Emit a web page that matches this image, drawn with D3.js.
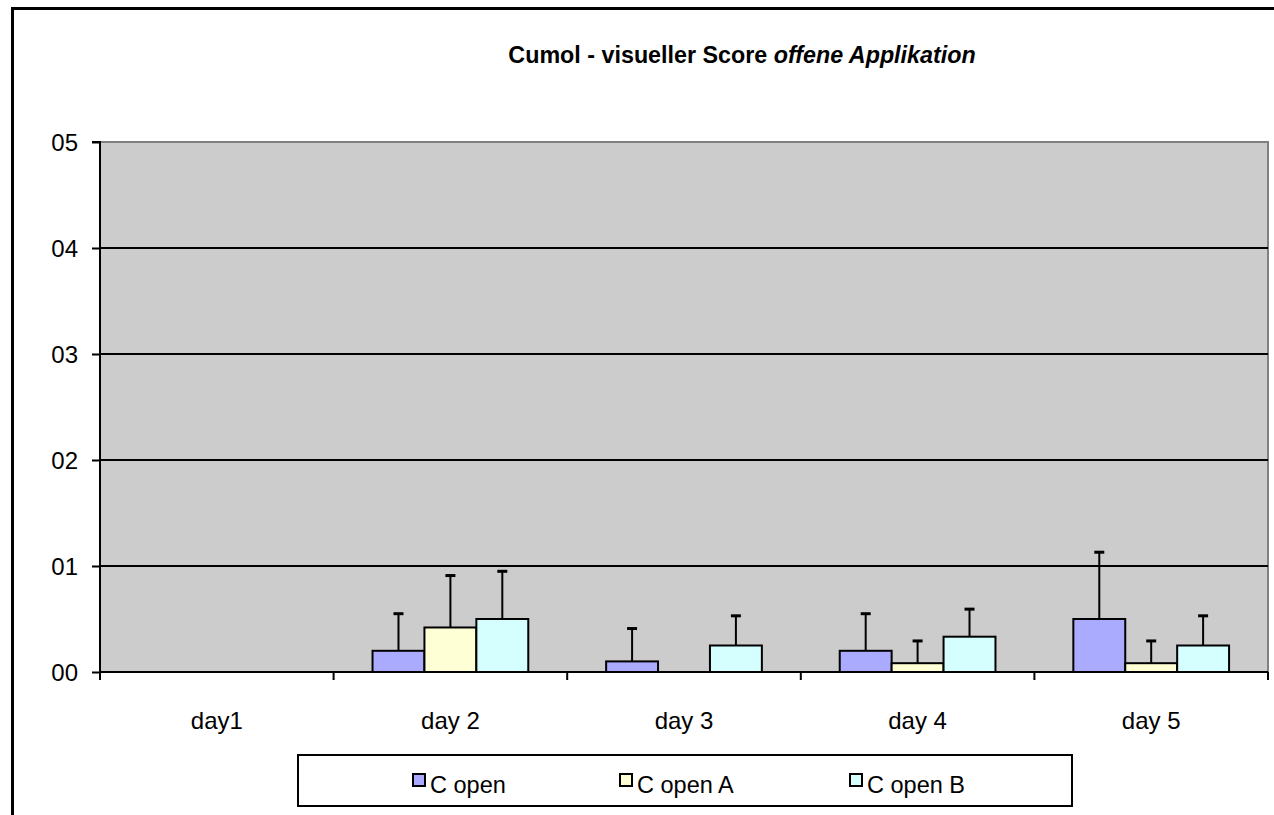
<!DOCTYPE html>
<html><head><meta charset="utf-8">
<script src="https://cdn.jsdelivr.net/npm/d3@7"></script>
<style>body{margin:0;background:#fff}svg{display:block}</style>
</head><body>
<svg id="c" width="1274" height="815"></svg>
<script>
const categories = ["day1", "day 2", "day 3", "day 4", "day 5"];
const seriesNames = ["C open", "C open A", "C open B"];
const cOpen  = [0, 0.2, 0.1, 0.2, 0.5];
const cOpenA = [0, 0.42, 0, 0.083, 0.083];
const cOpenB = [0, 0.5, 0.25, 0.333, 0.25];
const cOpenErr  = [0, 0.35, 0.31, 0.35, 0.63];
const cOpenAErr = [0, 0.49, 0, 0.21, 0.21];
const cOpenBErr = [0, 0.45, 0.28, 0.26, 0.28];
const yTicks = [0, 1, 2, 3, 4, 5];
const yTickLabels = ["00", "01", "02", "03", "04", "05"];
const colors = ["#aaaaff", "#ffffd5", "#d5ffff"];

const values = [cOpen, cOpenA, cOpenB];
const errors = [cOpenErr, cOpenAErr, cOpenBErr];

const svg = d3.select("#c");
const font = "'Liberation Sans', Arial, sans-serif";
const L = 100, R = 1268, T = 142, B = 672;

// outer chart border
svg.append("rect").attr("x", 12.5).attr("y", 8.5).attr("width", 1300).attr("height", 900)
  .attr("fill", "none").attr("stroke", "#000").attr("stroke-width", 3);

const x = d3.scaleBand().domain(categories).range([L, R]).paddingInner(0).paddingOuter(0);
const bw = x.bandwidth() / 4.5;
const xs = d3.scaleBand().domain(seriesNames).range([0.75 * bw, 3.75 * bw]);
const y = d3.scaleLinear().domain([0, 5]).range([B, T]);

// plot area
svg.append("rect").attr("x", L).attr("y", T).attr("width", R - L).attr("height", B - T).attr("fill", "#cccccc");
svg.append("path").attr("d", `M${L},${T}H${R}V${B}`).attr("fill", "none").attr("stroke", "#808080").attr("stroke-width", 2);

// gridlines
svg.append("g").selectAll("line").data(yTicks.filter(d => d > 0 && d < 5)).join("line")
  .attr("x1", L).attr("x2", R).attr("y1", d => y(d)).attr("y2", d => y(d))
  .attr("stroke", "#000").attr("stroke-width", 2);

// bars
const flat = [];
values.forEach((arr, si) => arr.forEach((v, ci) => flat.push({s: seriesNames[si], si, c: categories[ci], v, e: errors[si][ci]})));
const barG = svg.append("g");
barG.selectAll("rect").data(flat.filter(d => d.v > 0)).join("rect")
  .attr("x", d => x(d.c) + xs(d.s)).attr("y", d => y(d.v))
  .attr("width", xs.bandwidth()).attr("height", d => y(0) - y(d.v))
  .attr("fill", d => colors[d.si]).attr("stroke", "#000").attr("stroke-width", 2);

// error bars (plus only)
const errG = svg.append("g").attr("stroke", "#000").attr("stroke-width", 2);
flat.filter(d => d.e > 0).forEach(d => {
  const cx = x(d.c) + xs(d.s) + xs.bandwidth() / 2;
  errG.append("line").attr("x1", cx).attr("x2", cx).attr("y1", y(d.v)).attr("y2", y(d.v + d.e));
  errG.append("line").attr("x1", cx - 5).attr("x2", cx + 5).attr("y1", y(d.v + d.e)).attr("y2", y(d.v + d.e)).attr("stroke-width", 3);
});

// y axis
const yAxis = d3.axisLeft(y).tickValues(yTicks).tickSize(8).tickPadding(14)
  .tickFormat((d, i) => yTickLabels[i]);
const ya = svg.append("g").attr("transform", `translate(${L},0)`).call(yAxis);
ya.select(".domain").attr("stroke", "#000").attr("stroke-width", 2).attr("d", `M-8,${T}H0V${B}`);
ya.selectAll(".tick line").attr("stroke", "#000").attr("stroke-width", 2);
ya.selectAll("text").attr("font-family", font).attr("font-size", 24).attr("fill", "#000").attr("dy", "0.35em");

// x axis
const xAxis = d3.axisBottom(x).tickSize(0).tickPadding(40);
const xa = svg.append("g").attr("transform", `translate(0,${B})`).call(xAxis);
xa.select(".domain").attr("stroke", "#000").attr("stroke-width", 2).attr("d", `M${L},0H${R}`);
xa.selectAll("text").attr("font-family", font).attr("font-size", 24).attr("fill", "#000");
// category boundary ticks
const bounds = categories.map(c => x(c)).concat([R]);
xa.append("g").selectAll("line").data(bounds).join("line")
  .attr("x1", d => d).attr("x2", d => d).attr("y1", 0).attr("y2", 8)
  .attr("stroke", "#000").attr("stroke-width", 2);

// title
const title = svg.append("text").attr("x", 742).attr("y", 63).attr("text-anchor", "middle")
  .attr("font-family", font).attr("font-size", 23.3).attr("font-weight", "bold");
title.append("tspan").text("Cumol - visueller Score ");
title.append("tspan").attr("font-style", "italic").text("offene Applikation");

// legend
svg.append("rect").attr("x", 298).attr("y", 755).attr("width", 774).attr("height", 51)
  .attr("fill", "#fff").attr("stroke", "#000").attr("stroke-width", 2);
const legX = [413, 620, 850];
const lg = svg.append("g").selectAll("g").data(seriesNames).join("g")
  .attr("transform", (d, i) => `translate(${legX[i]},774)`);
lg.append("rect").attr("width", 12).attr("height", 12).attr("fill", (d, i) => colors[i])
  .attr("stroke", "#000").attr("stroke-width", 2);
lg.append("text").attr("x", 17).attr("y", 19).text(d => d)
  .attr("font-family", font).attr("font-size", 23.5).attr("fill", "#000");
</script>
</body></html>
